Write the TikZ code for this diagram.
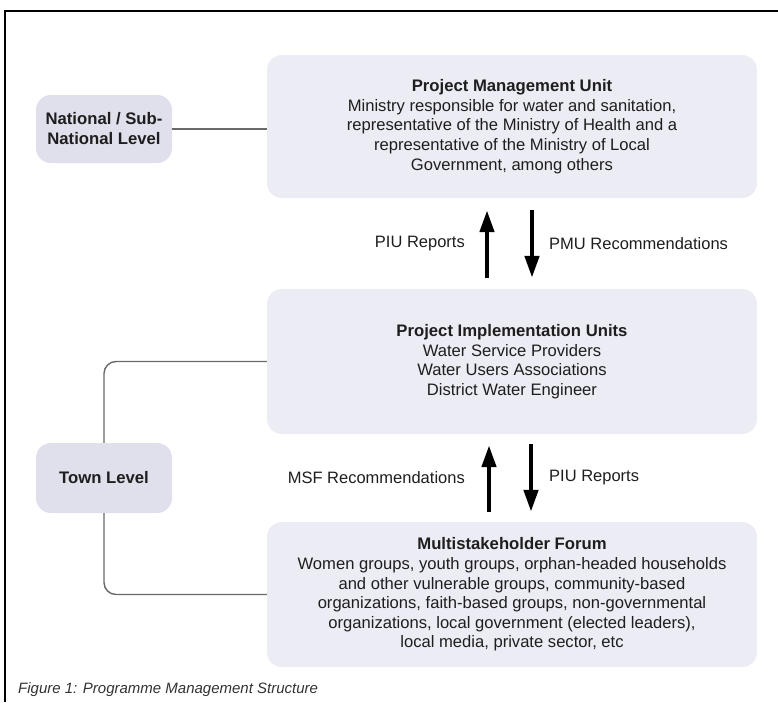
\documentclass[tikz,border=0pt]{standalone}
\usepackage{fontspec}
\setmainfont{Liberation Sans}
\usetikzlibrary{arrows.meta}
\definecolor{boxfill}{RGB}{236,236,245}
\definecolor{levelfill}{RGB}{224,223,236}
\definecolor{linkgrey}{RGB}{105,105,105}
\definecolor{txt}{RGB}{30,30,30}
\tikzset{
  bigbox/.style={rectangle, rounded corners=15pt, fill=boxfill, minimum width=490pt, align=center, text=txt, inner sep=0pt, font=\fontsize{16.6}{19.6}\selectfont},
  levelbox/.style={rectangle, rounded corners=15pt, fill=levelfill, minimum width=136pt, align=center, text=txt, inner sep=0pt, font=\fontsize{16.7}{20}\selectfont\bfseries},
  link/.style={draw=linkgrey, line width=1.4pt},
  bigarrow/.style={draw=black, line width=4.5pt, -{Triangle[length=22pt,width=14pt]}},
  lab/.style={text=txt, inner sep=0pt, font=\fontsize{16.5}{19.6}\selectfont}
}
\begin{document}
\begin{tikzpicture}[x=1pt, y=-1pt]
\useasboundingbox (0,0) rectangle (778,702);
% frame
\draw[line width=2pt] (778,11) -- (5,11) -- (5,702);

\node[bigbox, minimum height=143pt] (PMU) at (512,126.5) {{\fontsize{16.7}{19.6}\selectfont\bfseries Project Management Unit}\\Ministry responsible for water and sanitation,\\representative of the Ministry of Health and a\\representative of the Ministry of Local\\Government, among others};
\node[levelbox, minimum height=68pt] (NAT) at (104,129) {National / Sub-\\National Level};

\node[bigbox, minimum height=145pt] (PIU) at (512,361.5) {{\fontsize{16.7}{19.6}\selectfont\bfseries Project Implementation Units}\\Water Service Providers\\Water Users Associations\\District Water Engineer};
\node[levelbox, minimum height=70pt] (TOWN) at (104,478) {Town Level};

\node[bigbox, minimum height=145pt] (MSF) at (512,594.5) {{\fontsize{16.7}{19.6}\selectfont\bfseries Multistakeholder Forum}\\Women groups, youth groups, orphan-headed households\\and other vulnerable groups, community-based\\organizations, faith-based groups, non-governmental\\organizations, local government (elected leaders),\\local media, private sector, etc};

% connectors
\draw[link] (NAT.east) -- (NAT.east -| PMU.west);
\draw[link, rounded corners=12pt] (PIU.west) -| (TOWN.north);
\draw[link, rounded corners=12pt] (TOWN.south) |- (MSF.west);

% arrows PMU <-> PIU
\draw[bigarrow] ([xshift=-25pt,yshift=11pt]PIU.north) -- ([xshift=-25pt,yshift=-12pt]PMU.south);
\draw[bigarrow] ([xshift=20pt,yshift=-12pt]PMU.south) -- ([xshift=20pt,yshift=11pt]PIU.north);
\node[lab, anchor=east] (l1) at (465,244) {PIU Reports};
\node[lab, anchor=west] (l2) at (549,244) {PMU Recommendations};

% arrows PIU <-> MSF
\draw[bigarrow] ([xshift=-23pt,yshift=10pt]MSF.north) -- ([xshift=-23pt,yshift=-11pt]PIU.south);
\draw[bigarrow] ([xshift=19pt,yshift=-10pt]PIU.south) -- ([xshift=19pt,yshift=10pt]MSF.north);
\node[lab, anchor=east] (l3) at (465,478) {MSF Recommendations};
\node[lab, anchor=west] (l4) at (549,478) {PIU Reports};

% caption
\node[anchor=base west, inner sep=0pt, text={rgb,255:red,50;green,50;blue,50}, font=\fontsize{15}{18}\selectfont\itshape] (cap) at (18,693) {Figure 1: Programme Management Structure};
\end{tikzpicture}
\end{document}
